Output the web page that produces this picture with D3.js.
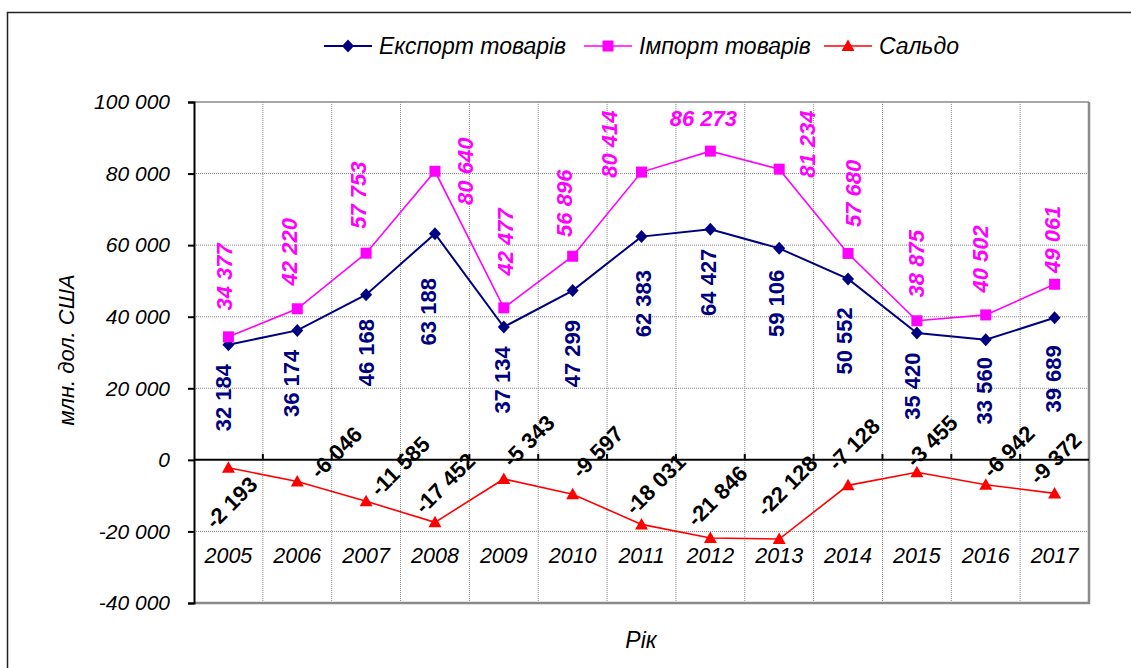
<!DOCTYPE html>
<html>
<head>
<meta charset="utf-8">
<script src="https://cdn.jsdelivr.net/npm/d3@7"></script>
<style>
  body { margin: 0; background: #fff; }
  svg text { font-family: "Liberation Sans", Arial, sans-serif; }
</style>
</head>
<body>
<div id="chart"></div>
<script>
// data
const years = ['2005', '2006', '2007', '2008', '2009', '2010', '2011', '2012', '2013', '2014', '2015', '2016', '2017'];
const exportVals = [32184, 36174, 46168, 63188, 37134, 47299, 62383, 64427, 59106, 50552, 35420, 33560, 39689];
const importVals = [34377, 42220, 57753, 80640, 42477, 56896, 80414, 86273, 81234, 57680, 38875, 40502, 49061];
const saldoVals = [-2193, -6046, -11585, -17452, -5343, -9597, -18031, -21846, -22128, -7128, -3455, -6942, -9372];
const yTicks = [-40000, -20000, 0, 20000, 40000, 60000, 80000, 100000];
const seriesNames = ['Експорт товарів', 'Імпорт товарів', 'Сальдо'];

// label placement (px offsets of label centre from the point, hand placed as in the original)
const expLabDx = [-5, -6, 0, -6, -1, 0, 2, -2, -3, -4, -4, -1, -1];
const expLabDy = [53, 53, 58, 78, 53, 63, 67, 53, 55, 62, 53, 51, 61];
const impLabDx = [-4, -8, -8, 31, 2, -8, -32, -7, 28, 5, 0, -5, -2];
const impLabDy = [-60, -57, -58, 0, -66, -53, -28, -33, -25, -60, -57, -56, -45];
const impLabRot = [-90, -90, -90, -90, -90, -90, -90, 0, -90, -90, -90, -90, -90];
const salLabDx = [3, 39, 34, 10, 25, 25, 14, 7, 8, 6, 15, 23, 1];
const salLabDy = [35, -29, -35, -39, -38, -42, -40, -42, -53, -41, -31, -33, -35];

const W = 1131, H = 668;
const plotL = 194, plotR = 1089, plotT = 102, plotB = 603;

const svg = d3.select('#chart')
  .append('svg')
  .attr('width', W)
  .attr('height', H);

svg.append('rect').attr('width', W).attr('height', H).attr('fill', '#fff');

// outer frame (only top and left edges visible)
svg.append('path')
  .attr('d', 'M7.5,' + H + ' L7.5,12.5 L' + W + ',12.5')
  .attr('fill', 'none')
  .attr('stroke', '#222')
  .attr('stroke-width', 1.5);

const x = d3.scaleBand().domain(years).range([plotL, plotR]);
const y = d3.scaleLinear().domain([-40000, 100000]).range([plotB, plotT]);
const cx = d => x(d) + x.bandwidth() / 2;

const fmt = d3.formatLocale({ decimal: ',', thousands: ' ', grouping: [3], currency: ['', ''], minus: '-' }).format(',d');

// grid
const grid = svg.append('g');
grid.selectAll('line.h')
  .data(yTicks.filter(v => v !== 0 && v !== 100000 && v !== -40000))
  .enter()
  .append('line')
  .attr('x1', plotL).attr('x2', plotR)
  .attr('y1', d => y(d)).attr('y2', d => y(d))
  .attr('stroke', '#8a8a8a')
  .attr('stroke-width', 1)
  .attr('stroke-dasharray', '1,1');
grid.selectAll('line.v')
  .data(years.slice(1))
  .enter()
  .append('line')
  .attr('x1', d => x(d)).attr('x2', d => x(d))
  .attr('y1', plotT).attr('y2', plotB)
  .attr('stroke', '#8a8a8a')
  .attr('stroke-width', 1)
  .attr('stroke-dasharray', '1,1');

// plot area border
svg.append('line').attr('x1', plotL).attr('x2', plotR).attr('y1', plotT).attr('y2', plotT)
  .attr('stroke', '#8a8a8a').attr('stroke-width', 1.5);
svg.append('line').attr('x1', plotR).attr('x2', plotR).attr('y1', plotT).attr('y2', plotB + 1)
  .attr('stroke', '#8a8a8a').attr('stroke-width', 2.5);
svg.append('line').attr('x1', plotL).attr('x2', plotR + 1).attr('y1', plotB).attr('y2', plotB)
  .attr('stroke', '#8a8a8a').attr('stroke-width', 2.5);

// y axis
const yAxis = d3.axisLeft(y)
  .tickValues(yTicks)
  .tickSize(6)
  .tickPadding(18)
  .tickFormat(fmt);
const gy = svg.append('g')
  .attr('transform', 'translate(' + plotL + ',0)')
  .call(yAxis);
gy.select('.domain').attr('stroke', '#000').attr('stroke-width', 2);
gy.selectAll('.tick line').attr('stroke', '#000').attr('stroke-width', 2);
gy.selectAll('.tick text')
  .attr('font-size', 21)
  .attr('font-style', 'italic')
  .attr('fill', '#000')
  .attr('font-family', '"Liberation Sans", Arial, sans-serif');

// category axis along zero, ticks at band boundaries pointing up
svg.append('line')
  .attr('x1', plotL).attr('x2', plotR)
  .attr('y1', y(0)).attr('y2', y(0))
  .attr('stroke', '#000').attr('stroke-width', 2);
svg.selectAll('line.xt')
  .data(years.slice(1))
  .enter()
  .append('line')
  .attr('x1', d => x(d)).attr('x2', d => x(d))
  .attr('y1', y(0)).attr('y2', y(0) - 6)
  .attr('stroke', '#000').attr('stroke-width', 2);

// year labels (low position)
svg.selectAll('text.year')
  .data(years)
  .enter()
  .append('text')
  .attr('x', d => cx(d))
  .attr('y', y(-20000) + 25)
  .attr('text-anchor', 'middle')
  .attr('dominant-baseline', 'central')
  .attr('font-size', 21.5)
  .attr('font-style', 'italic')
  .text(d => d);

// axis titles
svg.append('text')
  .attr('transform', 'translate(66,350) rotate(-90)')
  .attr('text-anchor', 'middle')
  .attr('dominant-baseline', 'central')
  .attr('font-size', 22)
  .attr('font-style', 'italic')
  .text('млн. дол. США');
svg.append('text')
  .attr('x', 641).attr('y', 640)
  .attr('text-anchor', 'middle')
  .attr('dominant-baseline', 'central')
  .attr('font-size', 23)
  .attr('font-style', 'italic')
  .text('Рік');

// markers
const diamond = 'M0,-6.5 L6,0 L0,6.5 L-6,0 Z';
const square = 'M-5.5,-5.5 L5.5,-5.5 L5.5,5.5 L-5.5,5.5 Z';
const triangle = 'M0,-6.5 L6.5,5 L-6.5,5 Z';

const series = [
  { vals: exportVals, color: '#000080', width: 2, marker: diamond },
  { vals: importVals, color: '#ff00ff', width: 1.6, marker: square },
  { vals: saldoVals, color: '#ff0000', width: 1.6, marker: triangle }
];

const line = d3.line()
  .x((d, i) => cx(years[i]))
  .y(d => y(d));

series.forEach(function(s) {
  svg.append('path')
    .attr('d', line(s.vals))
    .attr('fill', 'none')
    .attr('stroke', s.color)
    .attr('stroke-width', s.width);
  svg.append('g')
    .selectAll('path')
    .data(s.vals)
    .enter()
    .append('path')
    .attr('d', s.marker)
    .attr('transform', (d, i) => 'translate(' + cx(years[i]) + ',' + y(d) + ')')
    .attr('fill', s.color);
});

// data labels
svg.append('g')
  .selectAll('text')
  .data(exportVals)
  .enter()
  .append('text')
  .attr('transform', (d, i) => 'translate(' + (cx(years[i]) + expLabDx[i]) + ',' + (y(d) + expLabDy[i]) + ') rotate(-90)')
  .attr('text-anchor', 'middle')
  .attr('dominant-baseline', 'central')
  .attr('font-size', 22)
  .attr('font-weight', 'bold')
  .attr('fill', '#000080')
  .text(d => fmt(d));

svg.append('g')
  .selectAll('text')
  .data(importVals)
  .enter()
  .append('text')
  .attr('transform', (d, i) => 'translate(' + (cx(years[i]) + impLabDx[i]) + ',' + (y(d) + impLabDy[i]) + ') rotate(' + impLabRot[i] + ')')
  .attr('text-anchor', 'middle')
  .attr('dominant-baseline', 'central')
  .attr('font-size', 22)
  .attr('font-weight', 'bold')
  .attr('font-style', 'italic')
  .attr('fill', '#ff00ff')
  .text(d => fmt(d));

svg.append('g')
  .selectAll('text')
  .data(saldoVals)
  .enter()
  .append('text')
  .attr('transform', (d, i) => 'translate(' + (cx(years[i]) + salLabDx[i]) + ',' + (y(d) + salLabDy[i]) + ') rotate(-45)')
  .attr('text-anchor', 'middle')
  .attr('dominant-baseline', 'central')
  .attr('font-size', 22)
  .attr('font-weight', 'bold')
  .attr('fill', '#000')
  .text(d => fmt(d));

// legend
const legX = [324, 584, 824];
const leg = svg.append('g');
series.forEach(function(s, i) {
  const g = leg.append('g').attr('transform', 'translate(' + legX[i] + ',46)');
  g.append('line')
    .attr('x1', 0).attr('x2', 48)
    .attr('stroke', s.color)
    .attr('stroke-width', s.width);
  g.append('path')
    .attr('d', s.marker)
    .attr('transform', 'translate(24,0)')
    .attr('fill', s.color);
  g.append('text')
    .attr('x', 55)
    .attr('dominant-baseline', 'central')
    .attr('font-size', 23)
    .attr('font-style', 'italic')
    .text(seriesNames[i]);
});
</script>
</body>
</html>
